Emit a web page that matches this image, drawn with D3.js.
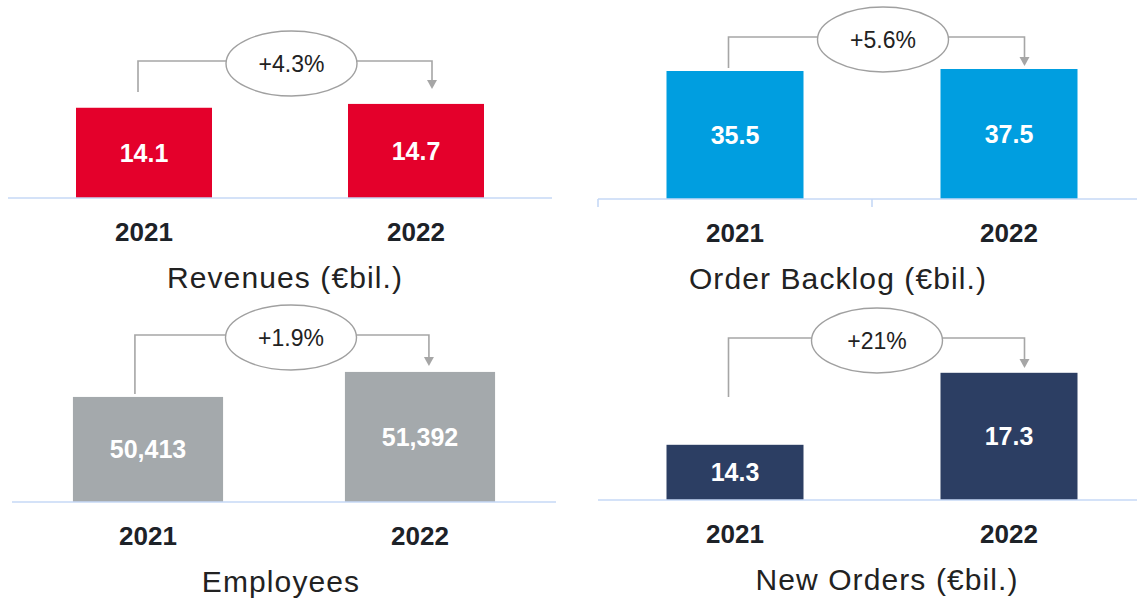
<!DOCTYPE html>
<html>
<head>
<meta charset="utf-8">
<script src="https://cdn.jsdelivr.net/npm/d3@7"></script>
<style>
  html, body { margin: 0; padding: 0; background: #fff; }
  svg { display: block; font-family: "Liberation Sans", Arial, sans-serif; }
</style>
</head>
<body>
<svg id="chart" width="1137" height="599"></svg>
<script>
// data
var years = ["2021", "2022"];
var revenues = [14.1, 14.7];
var orderBacklog = [35.5, 37.5];
var employees = [50413, 51392];
var newOrders = [14.3, 17.3];
var titles = ["Revenues (€bil.)", "Order Backlog (€bil.)", "Employees", "New Orders (€bil.)"];
var growth = ["+4.3%", "+5.6%", "+1.9%", "+21%"];

var fmtBil = d3.format(".1f"), fmtInt = d3.format(",");

// layout of each small panel (pixels)
var panels = [
  {values: revenues, fmt: fmtBil, color: "#e4002b", x0: 8, x1: 552, pi: 0.5, po: 0.25,
   base: 198, dom: [0, 15], h: 96, ticks: false,
   hy: 61, ly: 92, tip: 89, ex: 291.5, tx: 285},
  {values: orderBacklog, fmt: fmtBil, color: "#009ee0", x0: 598, x1: 1146, pi: 0.5, po: 0.25,
   base: 199, dom: [-92.5, 40], h: 132.5, ticks: true,
   hy: 37, ly: 68, tip: 66, ex: 883, tx: 838},
  {values: employees, fmt: fmtInt, color: "#a4a9ac", x0: 12, x1: 556, pi: 0.448, po: 0.224,
   base: 502, dom: [46300, 52000], h: 145.6, ticks: false,
   hy: 335, ly: 394, tip: 366, ex: 291, tx: 281},
  {values: newOrders, fmt: fmtBil, color: "#2c3e63", x0: 598, x1: 1146, pi: 0.5, po: 0.25,
   base: 500, dom: [12, 18], h: 144, ticks: false,
   hy: 338, ly: 397, tip: 368, ex: 877, tx: 887}
];

var svg = d3.select("#chart");
var grey = "#a6a6a6";

panels.forEach(function(p, i) {
  var g = svg.append("g");
  var data = years.map(function(y, j) { return {year: y, value: p.values[j]}; });

  var x = d3.scaleBand().domain(years).range([p.x0, p.x1])
    .paddingInner(p.pi).paddingOuter(p.po);
  var y = d3.scaleLinear().domain(p.dom).range([p.base, p.base - p.h]);

  // bars
  g.selectAll(".bar").data(data).enter().append("rect")
    .attr("class", "bar")
    .attr("x", function(d) { return x(d.year); })
    .attr("y", function(d) { return y(d.value); })
    .attr("width", x.bandwidth())
    .attr("height", function(d) { return p.base - y(d.value); })
    .attr("fill", p.color);

  // baseline
  g.append("line")
    .attr("x1", p.x0).attr("x2", p.x1)
    .attr("y1", p.base).attr("y2", p.base)
    .attr("stroke", "#c6d9f6").attr("stroke-width", 1.6);

  if (p.ticks) {
    g.selectAll(".tick").data([0, 1, 2]).enter().append("line")
      .attr("x1", function(k) { return p.x0 + k * x.step(); })
      .attr("x2", function(k) { return p.x0 + k * x.step(); })
      .attr("y1", p.base).attr("y2", p.base + 8)
      .attr("stroke", "#c6d9f6").attr("stroke-width", 1.6);
  }

  // values inside bars
  g.selectAll(".val").data(data).enter().append("text")
    .attr("x", function(d) { return x(d.year) + x.bandwidth() / 2; })
    .attr("y", function(d) { return (y(d.value) + p.base) / 2 + 9; })
    .attr("text-anchor", "middle")
    .attr("fill", "#fff")
    .style("font-size", "25px").style("font-weight", "bold")
    .text(function(d) { return p.fmt(d.value); });

  // year labels
  g.selectAll(".yr").data(data).enter().append("text")
    .attr("x", function(d) { return x(d.year) + x.bandwidth() / 2; })
    .attr("y", p.base + 43)
    .attr("text-anchor", "middle")
    .attr("fill", "#1d2228")
    .style("font-size", "26px").style("font-weight", "bold")
    .text(function(d) { return d.year; });

  // title
  g.append("text")
    .attr("x", p.tx).attr("y", p.base + 90)
    .attr("text-anchor", "middle")
    .attr("fill", "#222")
    .style("font-size", "30px").style("letter-spacing", "1.1px")
    .text(titles[i]);

  // growth bracket
  var lx = x(years[0]) + 62, rx = x(years[1]) + 84;
  g.append("path")
    .attr("d", "M" + lx + "," + p.ly + "V" + p.hy + "H" + rx + "V" + (p.tip - 8))
    .attr("fill", "none").attr("stroke", grey).attr("stroke-width", 1.6);
  g.append("path")
    .attr("d", "M" + (rx - 5) + "," + (p.tip - 9) + "L" + (rx + 5) + "," + (p.tip - 9) + "L" + rx + "," + p.tip + "Z")
    .attr("fill", grey);
  g.append("ellipse")
    .attr("cx", p.ex).attr("cy", p.hy + 2.5)
    .attr("rx", 65.5).attr("ry", 32.5)
    .attr("fill", "#fff").attr("stroke", "#a0a0a0").attr("stroke-width", 1.4);
  g.append("text")
    .attr("x", p.ex).attr("y", p.hy + 11)
    .attr("text-anchor", "middle")
    .attr("fill", "#222")
    .style("font-size", "23px")
    .text(growth[i]);
});
</script>
</body>
</html>
